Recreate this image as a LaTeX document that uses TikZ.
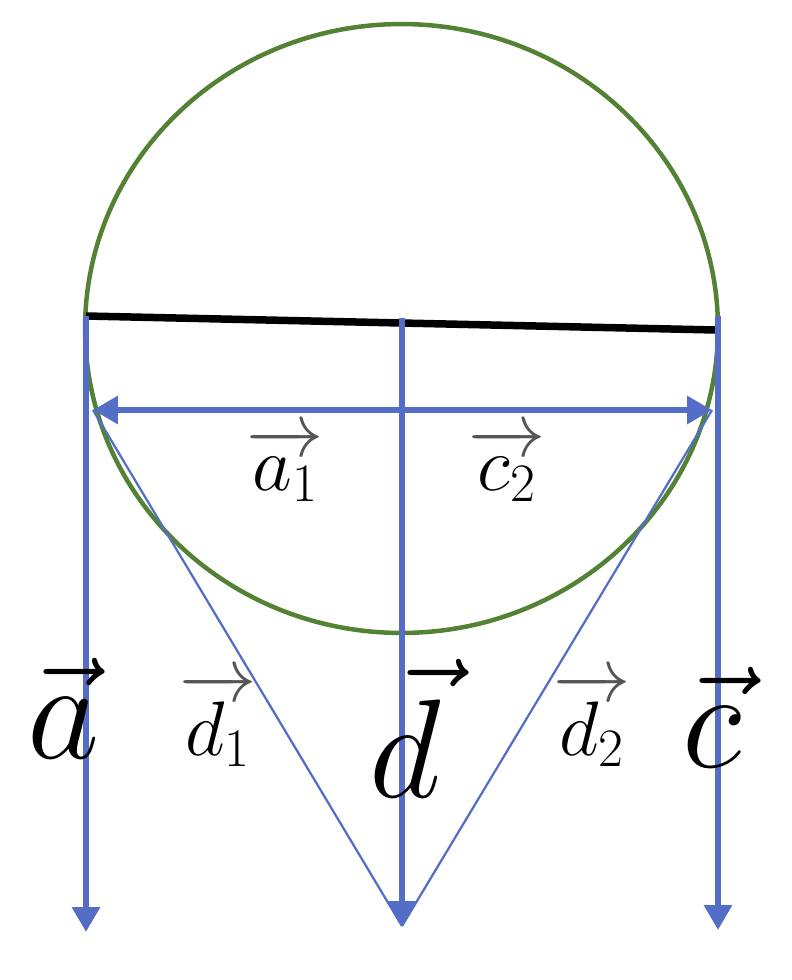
\RequirePackage{fix-cm}
\documentclass[tikz,border=0pt]{standalone}
\usepackage{amsmath}
\usepackage{tikz}
\usetikzlibrary{arrows.meta}

\definecolor{vecblue}{RGB}{84,110,200}
\definecolor{circgreen}{RGB}{84,130,53}
\definecolor{arrowgrey}{RGB}{85,85,85}
\newcommand{\greyvec}[1]{{\color{arrowgrey}\overrightarrow{\color{black}#1}}}

\begin{document}
\begin{tikzpicture}[
      x=0.02cm, y=-0.02cm,
      >={Triangle[length=0.5cm,width=0.54cm]},
      circ/.style={draw=circgreen, line width=0.09cm},
      chord/.style={draw=black, line width=0.15cm},
      thick vec/.style={draw=vecblue, line width=0.13cm},
      thin vec/.style={draw=vecblue, line width=0.045cm},
      big label/.style={anchor=base, inner sep=0pt, font=\fontsize{80}{90}\selectfont},
      small label/.style={anchor=base, inner sep=0pt, font=\fontsize{44}{50}\selectfont}
    ]
    \useasboundingbox (0,0) rectangle (791,980);
    %% Points
    \coordinate (centre) at (401.5,328.5);
    \coordinate (a-top) at (86,316);
    \coordinate (d-top) at (402,318);
    \coordinate (c-top) at (718,316);
    \coordinate (chord-end) at (716,330);
    \coordinate (a-end) at (86,932);
    \coordinate (d-end) at (402,926);
    \coordinate (c-end) at (718,930);
    \coordinate (a1-tip) at (93,410);
    \coordinate (c2-tip) at (712,410);
    %% Circle and chord
    \draw[circ] (centre) ellipse [x radius=6.33cm, y radius=6.09cm];
    \draw[chord] (a-top) -- (chord-end);
    %% Vectors
    \draw (a-top) edge[thick vec,->] (a-end);
    \draw (d-top) edge[thick vec,->] (d-end);
    \draw (c-top) edge[thick vec,->] (c-end);
    \draw (d-top |- a1-tip) edge[thick vec,->] (a1-tip);
    \draw (d-top |- c2-tip) edge[thick vec,->] (c2-tip);
    \draw[thin vec] (a1-tip) -- (d-end);
    \draw[thin vec] (c2-tip) -- (d-end);
    %% Labels
    \node[small label] (a1-label) at (285,490) {$\greyvec{a_1}$};
    \node[small label] (c2-label) at (507,490) {$\greyvec{c_2}$};
    \node[small label] (d1-label) at (218,755) {$\greyvec{d_1}$};
    \node[small label] (d2-label) at (592,755) {$\greyvec{d_2}$};
    \node[big label] (a-label) at (64,758) {$\vec{a}$};
    \node[big label] (d-label) at (405,797) {$\vec{d}$};
    \node[big label] (c-label) at (712,767) {$\vec{c}$};
  \end{tikzpicture}
\end{document}
